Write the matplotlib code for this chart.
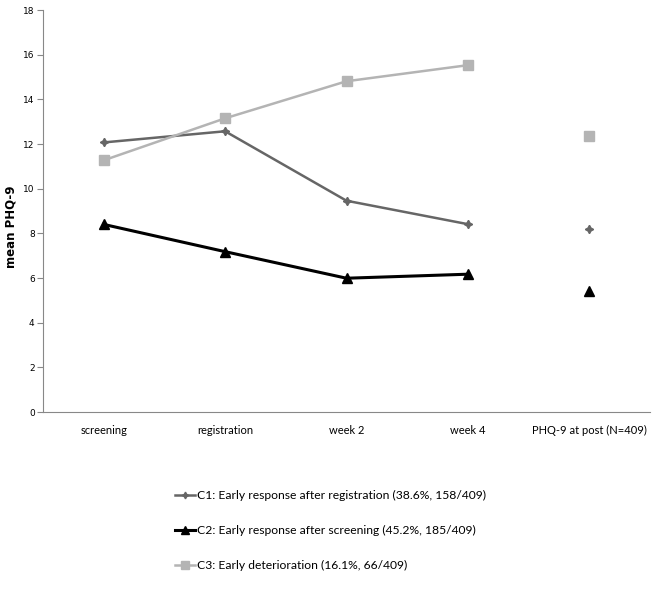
import numpy as np
import matplotlib.pyplot as plt

categories = ['screening', 'registration', 'week 2', 'week 4', 'PHQ-9 at post (N=409)']

c1_vals = [12.07, 12.57, 9.46, 8.41]
c2_vals = [8.40, 7.18, 5.99, 6.17]
c3_vals = [11.27, 13.15, 14.81, 15.53]
c1_post = 8.21
c2_post = 5.43
c3_post = 12.37

labels = ['C1: Early response after registration (38.6%, 158/409)',
          'C2: Early response after screening (45.2%, 185/409)',
          'C3: Early deterioration (16.1%, 66/409)']

plt.rcParams['font.family'] = ['Lato', 'DejaVu Sans']

fig = plt.figure(figsize=(6.62, 5.99), dpi=100)
ax = fig.add_axes([43/662, 1-412/599, 607/662, 402/599])

x = np.arange(len(categories))
xl = x[:4]

c1_col = '#666666'
c2_col = '#000000'
c3_col = '#b4b4b4'
star4 = (4, 1, 0)

l1, = ax.plot(xl, c1_vals, color=c1_col, lw=1.8, marker=star4, ms=6, mfc=c1_col, mec=c1_col)
l2, = ax.plot(xl, c2_vals, color=c2_col, lw=2.2, marker='^', ms=7.5, mfc=c2_col, mec=c2_col)
l3, = ax.plot(xl, c3_vals, color=c3_col, lw=1.8, marker='s', ms=7, mfc=c3_col, mec=c3_col)

ax.plot(x[4], c1_post, ls='none', marker=star4, ms=6, color=c1_col)
ax.plot(x[4], c2_post, ls='none', marker='^', ms=7.5, color=c2_col)
ax.plot(x[4], c3_post, ls='none', marker='s', ms=7, color=c3_col)

ax.set_xlim(-0.5, 4.5)
ax.set_ylim(0, 18)
ax.set_yticks(range(0, 19, 2))
ax.set_xticks(x)
ax.set_xticklabels(categories, fontsize=8)
ax.tick_params(axis='x', length=0, pad=9)
ax.tick_params(axis='y', length=4, color='#888888', labelsize=6.5, pad=2,
               labelfontfamily='DejaVu Sans')
for s in ['top', 'right']:
    ax.spines[s].set_visible(False)
ax.spines['left'].set_color('#888888')
ax.spines['bottom'].set_color('#888888')

ax.set_ylabel('mean PHQ-9', fontsize=8.5, fontweight='bold',
              family='DejaVu Sans')
ax.yaxis.set_label_coords(-25/607, 0.46)

fig.legend([l1, l2, l3], labels, loc='upper left', bbox_to_anchor=(170/662, 1-485/599),
           frameon=False, fontsize=8.7, handlelength=1.7, handletextpad=0.1,
           labelspacing=2.0, borderaxespad=0, markerscale=0.8)

fig.savefig('out.png', dpi=100)
